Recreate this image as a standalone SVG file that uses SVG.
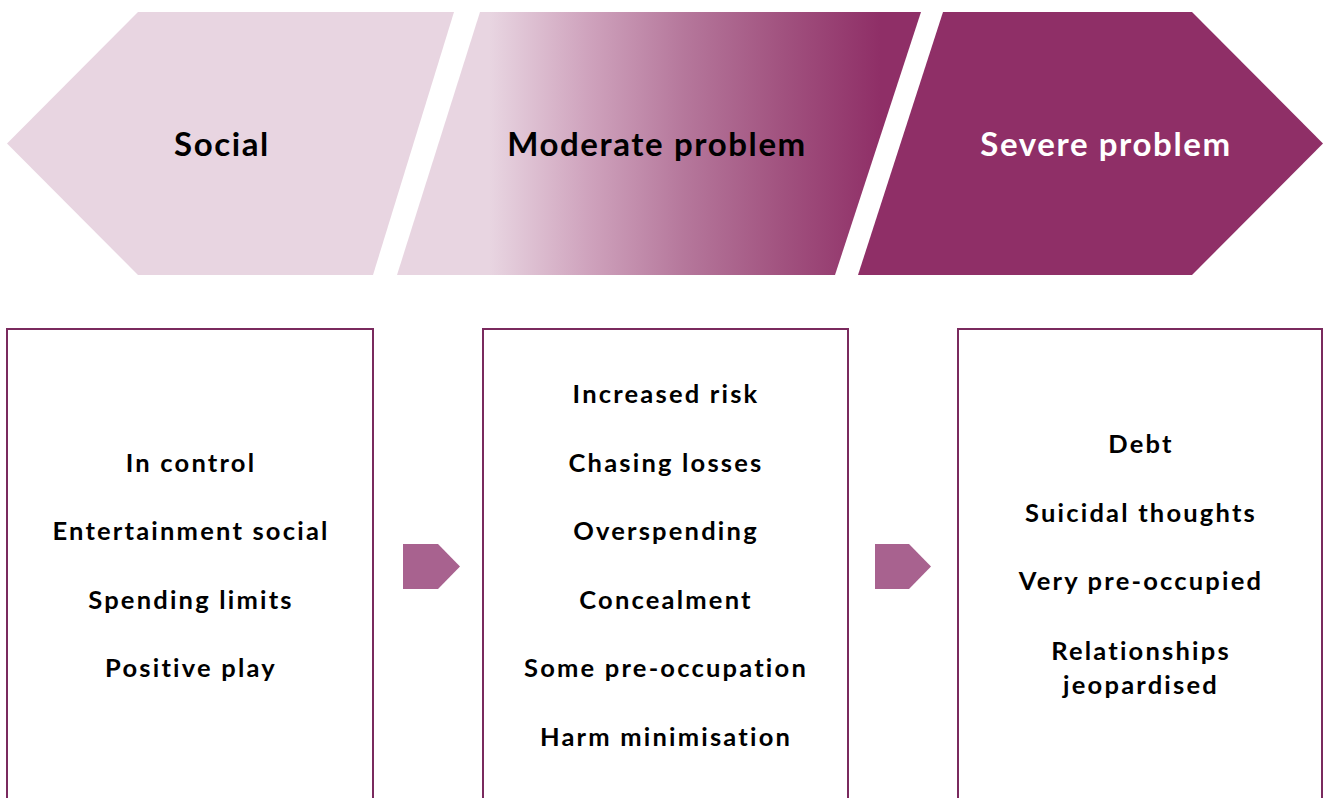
<svg xmlns="http://www.w3.org/2000/svg" width="1323" height="798" viewBox="0 0 1323 798">
<defs>
<linearGradient id="mid" gradientUnits="userSpaceOnUse" x1="490" y1="0" x2="880" y2="0">
<stop offset="0" stop-color="#e8d5e1"/>
<stop offset="0.25" stop-color="#cfa3bd"/>
<stop offset="0.5" stop-color="#b5779b"/>
<stop offset="0.75" stop-color="#a1527f"/>
<stop offset="1" stop-color="#8f2f67"/>
</linearGradient>
<style>
.title{font-family:Lato,"Liberation Sans",sans-serif;font-weight:bold;font-size:33px;letter-spacing:1.6px;text-anchor:middle}
.item{font-family:Lato,"Liberation Sans",sans-serif;font-weight:bold;font-size:25.5px;letter-spacing:2.2px;text-anchor:middle;fill:#000}
.box{fill:#fff;stroke:#7a2a5e;stroke-width:2}
.arr{fill:#a8628f}
</style>
</defs>
<g id="stage-social">
<polygon points="7,143.5 138,12 454,12 373,275 138,275" fill="#e8d5e1"/>
<text class="title" x="222" y="156" fill="#000">Social</text>
</g>
<g id="stage-moderate">
<polygon points="480,12 921,12 835,275 397,275" fill="url(#mid)"/>
<text class="title" x="657" y="156" fill="#000">Moderate problem</text>
</g>
<g id="stage-severe">
<polygon points="943,12 1192,12 1323,143.5 1192,275 858,275" fill="#8f2f67"/>
<text class="title" x="1106" y="156" fill="#fff">Severe problem</text>
</g>
<g id="box-social">
<rect class="box" x="7" y="329" width="366" height="480"/>
<text class="item" x="191" y="471.5">In control</text>
<text class="item" x="191" y="539.5">Entertainment social</text>
<text class="item" x="191" y="608.5">Spending limits</text>
<text class="item" x="191" y="676.5">Positive play</text>
</g>
<g id="box-moderate">
<rect class="box" x="483" y="329" width="365" height="480"/>
<text class="item" x="666" y="402.5">Increased risk</text>
<text class="item" x="666" y="471.5">Chasing losses</text>
<text class="item" x="666" y="539.5">Overspending</text>
<text class="item" x="666" y="608.5">Concealment</text>
<text class="item" x="666" y="676.5">Some pre-occupation</text>
<text class="item" x="666" y="745.5">Harm minimisation</text>
</g>
<g id="box-severe">
<rect class="box" x="958" y="329" width="364" height="480"/>
<text class="item" x="1141" y="452.5">Debt</text>
<text class="item" x="1141" y="521.5">Suicidal thoughts</text>
<text class="item" x="1141" y="589.5">Very pre-occupied</text>
<text class="item" x="1141" y="659.5">Relationships</text>
<text class="item" x="1141" y="693.5">jeopardised</text>
</g>
<g id="connectors">
<polygon class="arr" points="403,544 438,544 460,566.5 438,589 403,589"/>
<polygon class="arr" points="875,544 909,544 931,566.5 909,589 875,589"/>
</g>
</svg>
